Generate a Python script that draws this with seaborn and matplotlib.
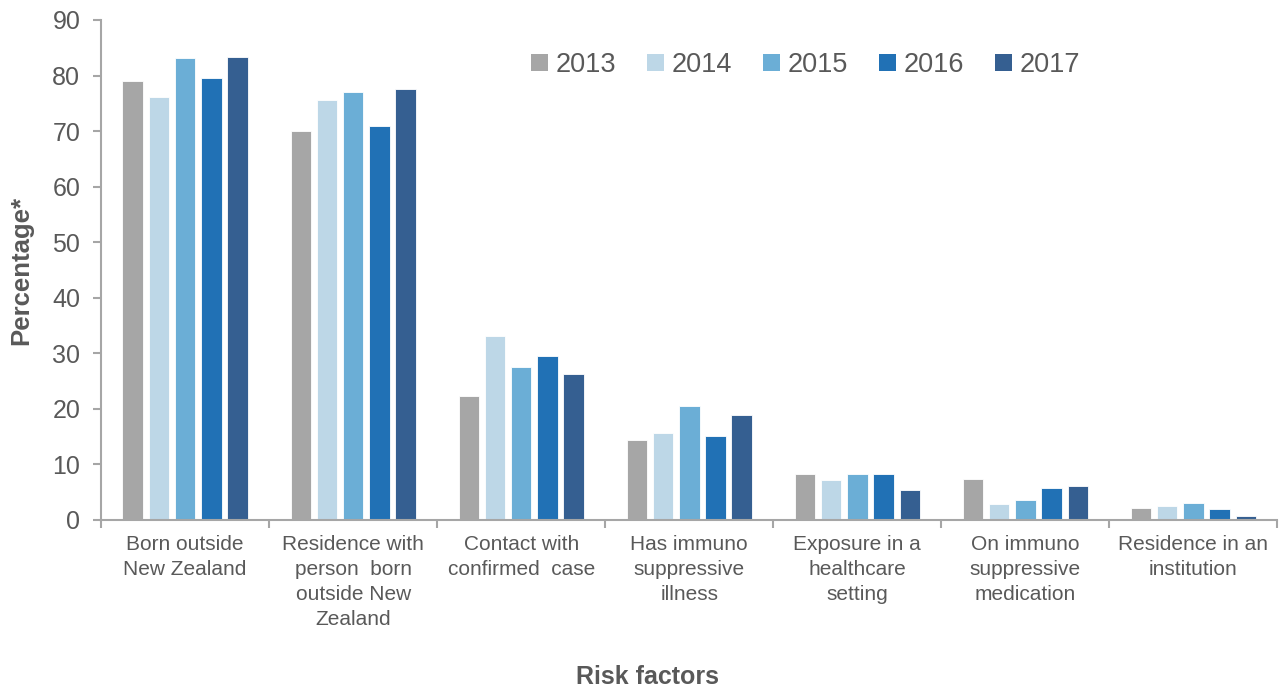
import seaborn as sns
import matplotlib.pyplot as plt
import numpy as np
import pandas as pd
from matplotlib.patches import Patch

categories = ['Born outside\nNew Zealand',
              'Residence with\nperson  born\noutside New\nZealand',
              'Contact with\nconfirmed  case',
              'Has immuno\nsuppressive\nillness',
              'Exposure in a\nhealthcare\nsetting',
              'On immuno\nsuppressive\nmedication',
              'Residence in an\ninstitution']
years = ['2013', '2014', '2015', '2016', '2017']
v2013 = [79.0, 70.1, 22.3, 14.4, 8.3, 7.3, 2.1]
v2014 = [76.1, 75.6, 33.1, 15.7, 7.2, 2.8, 2.6]
v2015 = [83.2, 77.0, 27.5, 20.5, 8.3, 3.6, 3.1]
v2016 = [79.6, 71.0, 29.5, 15.1, 8.2, 5.8, 1.9]
v2017 = [83.4, 77.5, 26.3, 18.9, 5.4, 6.1, 0.7]
colors = ['#A6A6A6', '#BDD7E7', '#6BAED6', '#2171B5', '#355F91']

rows = []
for yr, vals in zip(years, [v2013, v2014, v2015, v2016, v2017]):
    for c, v in zip(categories, vals):
        rows.append({'cat': c, 'year': yr, 'value': v})
df = pd.DataFrame(rows)

sns.set_style('white')
plt.rcParams['font.family'] = ['Liberation Sans', 'DejaVu Sans']
txt = '#595959'
axc = '#A6A6A6'

fig = plt.figure(figsize=(12.8, 6.89), dpi=100)
ax = fig.add_axes([0.079, 0.2453, 0.919, 0.7257])

sns.barplot(data=df, x='cat', y='value', hue='year', palette=colors,
            width=0.78, gap=0.22, edgecolor='white', linewidth=0.6,
            saturation=1, legend=False, ax=ax)

ax.set_xlim(-0.5, len(categories) - 0.5)
ax.set_ylim(0, 90)
ax.set_yticks(np.arange(0, 91, 10))
ax.tick_params(axis='y', labelsize=18, labelcolor=txt, color=axc,
               length=6, width=1.5, direction='out', left=True, pad=9)
ax.set_xticks(range(len(categories)))
ax.set_xticklabels(categories, fontsize=15, color=txt, linespacing=1.4)
ax.tick_params(axis='x', length=0, pad=11)
ax.set_xticks(np.arange(-0.5, len(categories)), minor=True)
ax.tick_params(axis='x', which='minor', length=6, width=1.5, color=axc,
               direction='out', bottom=True)

for s in ['top', 'right']:
    ax.spines[s].set_visible(False)
for s in ['left', 'bottom']:
    ax.spines[s].set_color(axc)
    ax.spines[s].set_linewidth(1.5)

ax.set_xlabel('')
fig.text(647 / 1280, 1 - 677 / 689, 'Risk factors', fontsize=18,
         fontweight='bold', color=txt, ha='center', va='center')
ax.set_ylabel('Percentage*', fontsize=18.5, fontweight='bold', color=txt,
              labelpad=14)

handles = [Patch(facecolor=c, edgecolor='none') for c in colors]
leg = ax.legend(handles, years, ncol=5, frameon=False, fontsize=19.5,
                loc='upper left', bbox_to_anchor=(0.345, 0.985),
                handlelength=0.6, handleheight=0.6, handletextpad=0.3,
                columnspacing=1.15)
for t in leg.get_texts():
    t.set_color(txt)

fig.savefig('out.png', dpi=100)
